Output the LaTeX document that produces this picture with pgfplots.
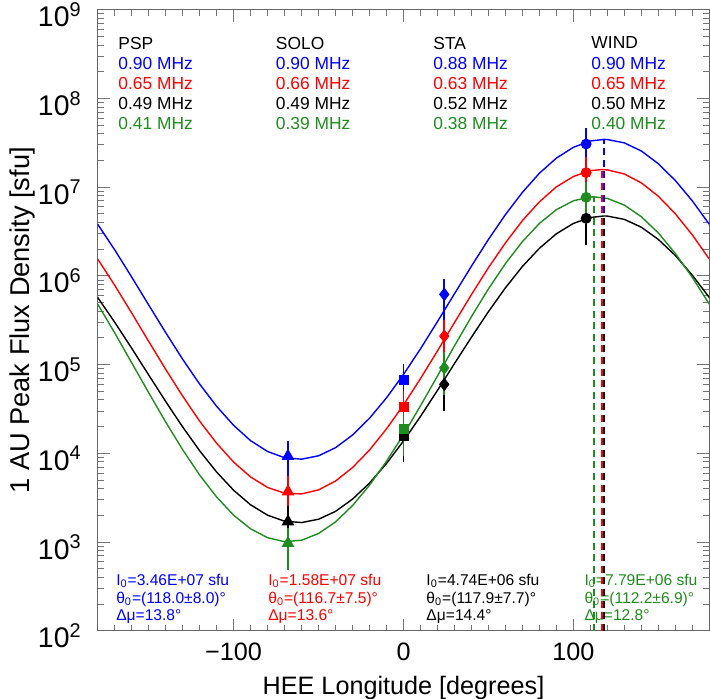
\documentclass[border=0pt]{standalone}
\usepackage{fontspec}
\setmainfont{Liberation Sans}
\usepackage{pgfplots}
\pgfplotsset{compat=1.18}
\usetikzlibrary{calc}
\definecolor{igreen}{RGB}{30,140,30}
\newcommand{\ticfont}{\fontsize{12.6}{14}\selectfont}
\newcommand{\topfont}{\fontsize{8.7}{10}\selectfont}
\newcommand{\botfont}{\fontsize{7.8}{8.7}\selectfont}
% one measured point with a +-50% error bar
\newcommand{\meas}[4]{\addplot[#1, only marks, mark=#2, mark size=#3,
  error bars/.cd, y dir=both, y fixed relative=0.5, error mark=none,
  error bar style={line width=0.9pt}] coordinates {#4};}

\begin{document}
\begin{tikzpicture}
\begin{axis}[
  scale only axis, width=305.75pt, height=310.45pt,
  xmin=-180, xmax=180, ymin=1e2, ymax=1e9,
  ymode=log, log basis y=10,
  xtick={-100,0,100}, xticklabels={−100,0,100},
  minor xtick={-170,-160,...,170},
  yticklabel={10\textsuperscript{\pgfmathprintnumber[fixed,precision=0]{\tick}}},
  /pgf/number format/assume math mode=true,
  tick label style={font=\ticfont},
  xticklabel style={yshift=-2.5pt},
  yticklabel style={font=\fontsize{14.2}{16}\selectfont, xshift=-4.5pt, yshift=-2.5pt},
  major tick length=6pt, minor tick length=3pt,
  every tick/.style={black!55, line width=0.5pt},
  axis line style={black!60, line width=0.6pt},
  xlabel={HEE Longitude [degrees]},
  ylabel={1 AU Peak Flux Density [sfu]},
  xlabel style={font=\ticfont, at={(rel axis cs:0.5,-0.1019)}, anchor=base},
  ylabel style={font=\fontsize{13.6}{15}\selectfont, at={(rel axis cs:-0.1238,0.5)}, anchor=center},
]
\coordinate (ll) at (rel axis cs:0,0);
\coordinate (ur) at (rel axis cs:1,1);

% fitted directivity curves
\addplot[blue, line width=0.7pt] coordinates {
 (-180,3.82e6) (-170,1.97e6) (-160,9.71e5) (-150,4.71e5) (-140,2.30e5) (-130,1.15e5)
 (-120,6.04e4) (-110,3.39e4) (-100,2.07e4) (-90,1.39e4) (-80,1.05e4) (-70,8.93e3)
 (-60,8.60e3) (-50,9.39e3) (-40,1.16e4) (-30,1.61e4) (-20,2.49e4) (-10,4.23e4)
 (0,7.76e4) (10,1.51e5) (20,3.06e5) (30,6.30e5) (40,1.29e6) (50,2.58e6) (60,4.92e6)
 (70,8.76e6) (80,1.44e7) (90,2.13e7) (100,2.82e7) (110,3.32e7) (118,3.46e7) (120,3.45e7)
 (130,3.16e7) (140,2.56e7) (150,1.84e7) (160,1.19e7) (170,7.02e6) (180,3.82e6)};
\addplot[red, line width=0.7pt] coordinates {
 (-180,1.55e6) (-170,7.85e5) (-160,3.82e5) (-150,1.83e5) (-140,8.87e4) (-130,4.42e4)
 (-120,2.31e4) (-110,1.30e4) (-100,7.98e3) (-90,5.42e3) (-80,4.13e3) (-70,3.56e3)
 (-60,3.49e3) (-50,3.88e3) (-40,4.88e3) (-30,6.92e3) (-20,1.09e4) (-10,1.89e4)
 (0,3.52e4) (10,6.97e4) (20,1.43e5) (30,2.98e5) (40,6.17e5) (50,1.24e6) (60,2.36e6)
 (70,4.21e6) (80,6.85e6) (90,1.01e7) (100,1.32e7) (110,1.54e7) (116.7,1.58e7) (120,1.57e7)
 (130,1.41e7) (140,1.12e7) (150,7.91e6) (160,5.02e6) (170,2.90e6) (180,1.55e6)};
\addplot[black, line width=0.7pt] coordinates {
 (-180,5.71e5) (-170,3.01e5) (-160,1.53e5) (-150,7.66e4) (-140,3.85e4) (-130,1.99e4)
 (-120,1.07e4) (-110,6.16e3) (-100,3.84e3) (-90,2.63e3) (-80,2.01e3) (-70,1.72e3)
 (-60,1.66e3) (-50,1.81e3) (-40,2.22e3) (-30,3.05e3) (-20,4.63e3) (-10,7.70e3)
 (0,1.38e4) (10,2.61e4) (20,5.13e4) (30,1.03e5) (40,2.04e5) (50,3.96e5) (60,7.35e5)
 (70,1.28e6) (80,2.05e6) (90,2.99e6) (100,3.91e6) (110,4.56e6) (117.9,4.74e6) (120,4.73e6)
 (130,4.34e6) (140,3.54e6) (150,2.58e6) (160,1.70e6) (170,1.02e6) (180,5.71e5)};
\addplot[igreen, line width=0.7pt] coordinates {
 (-180,4.81e5) (-170,2.28e5) (-160,1.05e5) (-150,4.83e4) (-140,2.26e4) (-130,1.10e4)
 (-120,5.70e3) (-110,3.22e3) (-100,2.01e3) (-90,1.41e3) (-80,1.12e3) (-70,1.01e3)
 (-60,1.05e3) (-50,1.25e3) (-40,1.69e3) (-30,2.58e3) (-20,4.38e3) (-10,8.16e3)
 (0,1.63e4) (10,3.44e4) (20,7.46e4) (30,1.63e5) (40,3.48e5) (50,7.15e5) (60,1.38e6)
 (70,2.44e6) (80,3.91e6) (90,5.59e6) (100,7.04e6) (110,7.76e6) (112.2,7.79e6) (120,7.48e6)
 (130,6.29e6) (140,4.65e6) (150,3.05e6) (160,1.79e6) (170,9.63e5) (180,4.81e5)};

% spacecraft and frequency labels
\node[anchor=north west, inner sep=0pt, align=left, font=\topfont] at (rel axis cs:0.0332,0.9568)
 {PSP\\\textcolor{blue}{0.90 MHz}\\\textcolor{red}{0.65 MHz}\\0.49 MHz\\\textcolor{igreen}{0.41 MHz}};
\node[anchor=north west, inner sep=0pt, align=left, font=\topfont] at (rel axis cs:0.2908,0.9568)
 {SOLO\\\textcolor{blue}{0.90 MHz}\\\textcolor{red}{0.66 MHz}\\0.49 MHz\\\textcolor{igreen}{0.39 MHz}};
\node[anchor=north west, inner sep=0pt, align=left, font=\topfont] at (rel axis cs:0.5483,0.9568)
 {STA\\\textcolor{blue}{0.88 MHz}\\\textcolor{red}{0.63 MHz}\\0.52 MHz\\\textcolor{igreen}{0.38 MHz}};
\node[anchor=north west, inner sep=0pt, align=left, font=\topfont] at (rel axis cs:0.8067,0.9568)
 {WIND\\\textcolor{blue}{0.90 MHz}\\\textcolor{red}{0.65 MHz}\\0.50 MHz\\\textcolor{igreen}{0.40 MHz}};

% fit parameters
\node[anchor=north west, inner sep=0pt, align=left, font=\botfont, text=blue] at (rel axis cs:0.0297,0.0913)
 {I\textsubscript{0}=3.46E+07 sfu\\θ\textsubscript{0}=(118.0±8.0)°\\Δμ=13.8°};
\node[anchor=north west, inner sep=0pt, align=left, font=\botfont, text=red] at (rel axis cs:0.2783,0.0913)
 {I\textsubscript{0}=1.58E+07 sfu\\θ\textsubscript{0}=(116.7±7.5)°\\Δμ=13.6°};
\node[anchor=north west, inner sep=0pt, align=left, font=\botfont, text=black] at (rel axis cs:0.5369,0.0913)
 {I\textsubscript{0}=4.74E+06 sfu\\θ\textsubscript{0}=(117.9±7.7)°\\Δμ=14.4°};
\node[anchor=north west, inner sep=0pt, align=left, font=\botfont, text=igreen] at (rel axis cs:0.7953,0.0913)
 {I\textsubscript{0}=7.79E+06 sfu\\θ\textsubscript{0}=(112.2±6.9)°\\Δμ=12.8°};

% measured peak fluxes: PSP, SOLO, STA, WIND
\meas{blue}{triangle*}{3.3pt}{(-68,9.3e3)}
\meas{blue}{square*}{2.3pt}{(0,6.7e4)}
\meas{blue}{diamond*}{3.1pt}{(24,6.2e5)}
\meas{blue}{*}{2.5pt}{(107.5,3.07e7)}
\meas{red}{triangle*}{3.3pt}{(-68,3.7e3)}
\meas{red}{square*}{2.3pt}{(0,3.35e4)}
\meas{red}{diamond*}{3.1pt}{(24,2.1e5)}
\meas{red}{*}{2.5pt}{(107.5,1.46e7)}
\meas{black}{triangle*}{3.3pt}{(-68,1.7e3)}
\meas{black}{square*}{2.3pt}{(0,1.58e4)}
\meas{black}{diamond*}{3.1pt}{(24,6.0e4)}
\meas{black}{*}{2.5pt}{(107.5,4.46e6)}
\meas{igreen}{triangle*}{3.3pt}{(-68,9.7e2)}
\meas{igreen}{square*}{2.3pt}{(0,1.88e4)}
\meas{igreen}{diamond*}{3.1pt}{(24,9.2e4)}
\meas{igreen}{*}{2.5pt}{(107.5,7.7e6)}

% peak directions
\addplot[blue, line width=0.75pt, dash pattern=on 3.5pt off 2.3pt] coordinates {(118,1e2) (118,3.46e7)};
\addplot[red, line width=0.75pt, dash pattern=on 3.5pt off 2.3pt] coordinates {(116.7,1e2) (116.7,1.58e7)};
\addplot[black, line width=0.75pt, dash pattern=on 3.5pt off 2.3pt] coordinates {(117.9,1e2) (117.9,4.74e6)};
\addplot[igreen, line width=0.75pt, dash pattern=on 3.5pt off 2.3pt] coordinates {(112.2,1e2) (112.2,7.79e6)};
\end{axis}
\pgfresetboundingbox
\path ($(ll)+(-48.85pt,-33.65pt)$) rectangle ($(ur)+(0.35pt,4.9pt)$);
\end{tikzpicture}
\end{document}
